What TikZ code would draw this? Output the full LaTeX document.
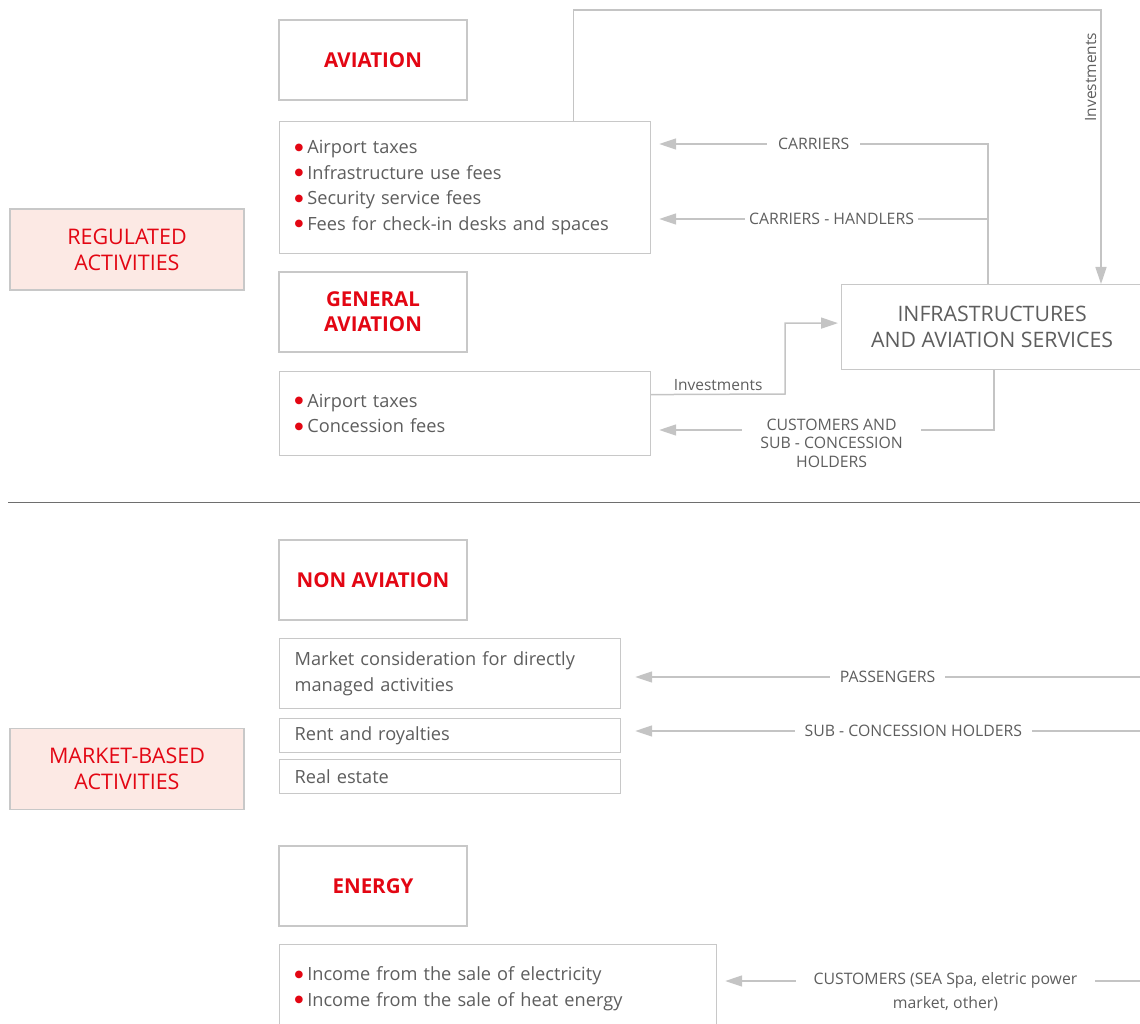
\documentclass[tikz,border=0pt]{standalone}
\usepackage{fontspec}
\setmainfont{Open Sans}
\newfontfamily\symfont{DejaVu Sans}
\usetikzlibrary{arrows.meta,positioning}

\definecolor{avred}{HTML}{E30613}
\definecolor{txtgray}{HTML}{5E5E5E}
\definecolor{linegray}{HTML}{C4C4C4}
\definecolor{boxgray}{HTML}{C8C8C8}
\definecolor{sidefill}{HTML}{FCE9E4}
\definecolor{sepgray}{HTML}{6E6E6E}

\newcommand{\bul}{{\color{avred}\symfont\fontsize{10}{0}\selectfont\raisebox{3.5pt}{●}}\hspace{4pt}}

\tikzset{
    box/.style={draw=boxgray, line width=1.2pt, fill=white, inner sep=0pt},
    head/.style={box, minimum width=188pt, minimum height=80pt, text=avred, align=center,
        font=\fontsize{20.5}{25}\selectfont\bfseries},
    listbox/.style={box, anchor=north west, text=txtgray, align=left, inner xsep=15pt,
        font=\fontsize{18.2}{25.4}\selectfont},
    side/.style={box, fill=sidefill, minimum width=234pt, minimum height=81pt, text=avred,
        align=center, font=\fontsize{21.5}{26}\selectfont},
    conn/.style={draw=linegray, line width=1.5pt},
    arr/.style={conn, -{Triangle[length=17pt,width=11pt]}},
    lbl/.style={fill=white, text=txtgray, inner xsep=10pt, inner ysep=2pt, align=center,
        font=\fontsize{15.8}{18.5}\selectfont}
}

\begin{document}
\begin{tikzpicture}[x=1pt, y=-1pt]
        \useasboundingbox (0,0) rectangle (1140,1024);

        % regulated activities
        \node[side] (regulated) at (127,249.5) {REGULATED\\ACTIVITIES};

        \node[head] (aviation) at (373,60) {AVIATION};
        \node[listbox, text width=341pt, minimum height=132pt] (avfees) at (279,121) {
            \bul Airport taxes\\
            \bul Infrastructure use fees\\
            \bul Security service fees\\
            \bul Fees for check-in desks and spaces
        };

        \node[head] (general) at (373,312) {GENERAL\\AVIATION};
        \node[listbox, text width=341pt, minimum height=84pt] (gafees) at (279,371) {
            \bul Airport taxes\\
            \bul Concession fees
        };

        \node[box, anchor=north west, minimum width=301pt, minimum height=85pt, text=txtgray,
            align=center, font=\fontsize{21.3}{25.5}\selectfont] (infra) at (841,284) {
            INFRASTRUCTURES\\AND AVIATION SERVICES
        };

        % flows to and from the infrastructures
        \coordinate (invcorner) at (1101,10);
        \coordinate (carr) at (988,144);
        \coordinate (hand) at (988,219);
        \coordinate (gastep) at (785,394);
        \coordinate (cust) at (994,430);

        \draw[arr] ([xshift=108.5pt]avfees.north) |- (invcorner)
            -- node[pos=0.245, rotate=90, anchor=south, inner sep=4pt, text=txtgray,
                font=\fontsize{15.5}{18}\selectfont] {Investments} (invcorner |- infra.north);
        \draw[arr] (carr |- infra.north) -- (carr)
            -- node[lbl, pos=0.53, inner xsep=11pt] {CARRIERS} ([xshift=8pt]avfees.east |- carr);
        \draw[arr] (hand)
            -- node[lbl, pos=0.476, inner xsep=4pt] {CARRIERS - HANDLERS} ([xshift=8pt]avfees.east |- hand);
        \draw[arr] ([yshift=19pt]gafees.east)
            -- node[above, inner sep=3pt, text=txtgray, font=\fontsize{15.5}{18}\selectfont] {Investments} (gastep)
            |- ([xshift=-3pt, yshift=4pt]infra.west);
        \draw[arr] (infra.south -| cust) -- (cust)
            -- node[lbl, pos=0.485, yshift=-13pt, inner xsep=18pt] {CUSTOMERS AND\\SUB - CONCESSION\\HOLDERS}
            ([xshift=8pt]gafees.east |- cust);

        % separator
        \draw[sepgray, line width=1pt] (8,502) -- (1140,502);

        % market-based activities
        \node[side] (market) at (127,769) {MARKET-BASED\\ACTIVITIES};

        \node[head] (nonaviation) at (373,580) {NON AVIATION};
        \node[listbox, text width=311pt, minimum height=70pt] (managed) at (279,638) {
            Market consideration for directly\\
            managed activities
        };
        \node[listbox, text width=311pt, minimum height=34pt] (rent) at (279,718) {Rent and royalties};
        \node[listbox, text width=311pt, minimum height=34pt] (estate) at (279,759) {Real estate};

        \coordinate (paxin) at (1140,677);
        \coordinate (subin) at (1140,731);
        \draw[arr] (paxin) -- node[lbl] {PASSENGERS} ([xshift=14pt]managed.east |- paxin);
        \draw[arr] (subin) -- node[lbl, pos=0.449] {SUB - CONCESSION HOLDERS} ([xshift=14pt]rent.east |- subin);

        \node[head] (energy) at (373,886) {ENERGY};
        \node[listbox, text width=407pt, minimum height=88pt] (energyfees) at (279,944) {
            \bul Income from the sale of electricity\\
            \bul Income from the sale of heat energy
        };

        \coordinate (custin) at (1140,981);
        \draw[arr] (custin)
            -- node[lbl, pos=0.469, yshift=-11pt, inner xsep=18pt, font=\fontsize{15.8}{24}\selectfont]
                {CUSTOMERS (SEA Spa, eletric power\\market, other)}
            ([xshift=8pt]energyfees.east |- custin);
    \end{tikzpicture}
\end{document}
